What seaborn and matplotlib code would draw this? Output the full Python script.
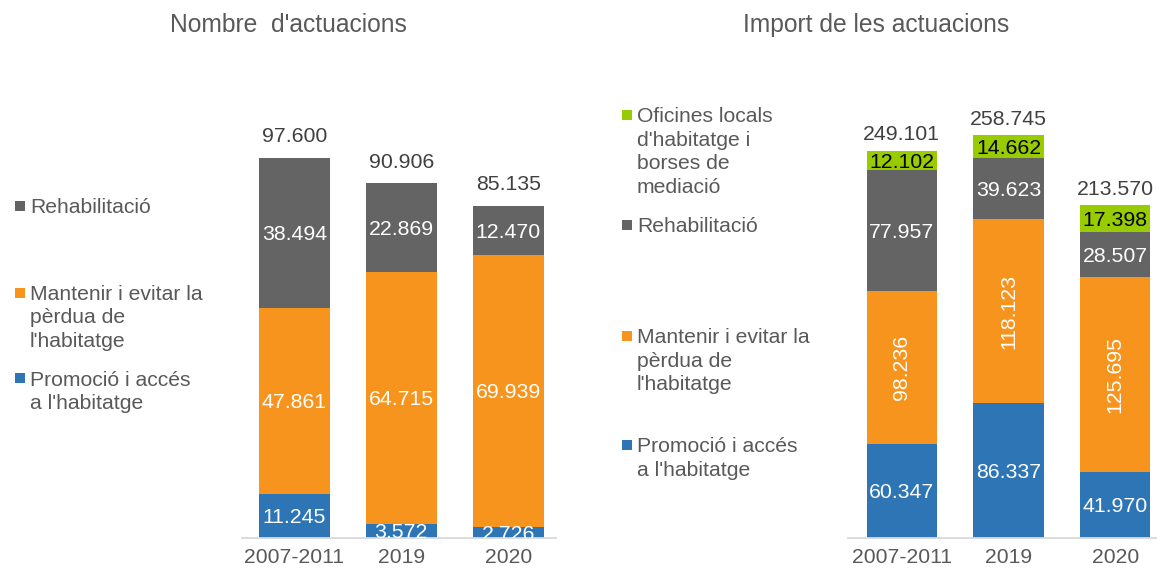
import numpy as np
import pandas as pd
import matplotlib.pyplot as plt
import matplotlib.patches as mpatches
import seaborn as sns

# --- data ---
years = ['2007-2011', '2019', '2020']

lbl_promocio = "Promoció i accés\na l'habitatge"
lbl_mantenir = "Mantenir i evitar la\npèrdua de\nl'habitatge"
lbl_rehab = "Rehabilitació"
lbl_oficines = "Oficines locals\nd'habitatge i\nborses de\nmediació"

nombre_promocio = [11245, 3572, 2726]
nombre_mantenir = [47861, 64715, 69939]
nombre_rehab = [38494, 22869, 12470]
nombre_total = [97600, 90906, 85135]

import_promocio = [60347, 86337, 41970]
import_mantenir = [98236, 118123, 125695]
import_rehab = [77957, 39623, 28507]
import_oficines = [12102, 14662, 17398]
import_total = [249101, 258745, 213570]

c_blue = '#2E75B6'
c_orange = '#F7941E'
c_gray = '#646464'
c_green = '#99CC00'
c_text = '#595959'

sns.set_style('white')
plt.rcParams['font.family'] = ['Liberation Sans', 'DejaVu Sans']

W, H = 1157, 572
fig = plt.figure(figsize=(W / 100, H / 100), dpi=100)


def fmt(v):
    return f"{v:,}".replace(',', '.')


def stacked(ax, series, totals, total_off, rot_orange=False):
    # series: list of (name, values, color, label color), bottom to top
    df = pd.DataFrame({'year': years})
    cum = np.zeros(len(years))
    cums = []
    for name, vals, col, tc in series:
        bottom = cum.copy()
        cum = cum + np.array(vals)
        cums.append((name, bottom, cum.copy(), vals, col, tc))
    # draw from the top layer down so the lower layers sit on top
    for name, bottom, top, vals, col, tc in reversed(cums):
        df['v'] = top
        sns.barplot(data=df, x='year', y='v', color=col, saturation=1,
                    width=0.66, errorbar=None, linewidth=0, ax=ax)
    for name, bottom, top, vals, col, tc in cums:
        for i, v in enumerate(vals):
            rot = 90 if (rot_orange and col == c_orange) else 0
            ax.text(i, bottom[i] + v / 2, fmt(v), ha='center',
                    va='center' if rot else 'center_baseline', rotation=rot,
                    fontsize=15.3, color=tc, clip_on=True)
    for i, t in enumerate(totals):
        ax.annotate(fmt(t), (i, t), xytext=(0, total_off), textcoords='offset points',
                    ha='center', va='baseline', fontsize=15.3, color='#404040',
                    annotation_clip=False)
    ax.set_xlabel('')
    ax.set_ylabel('')
    ax.set_yticks([])
    sns.despine(ax=ax, left=True)
    ax.spines['bottom'].set_color('#D9D9D9')
    ax.spines['bottom'].set_linewidth(1.3)
    ax.tick_params(axis='x', length=0, pad=7.5, labelsize=15.2, labelcolor=c_text)


ax1 = fig.add_axes([241.8 / W, (H - 537.5) / H, 314.6 / W, 466.7 / H])
stacked(ax1, [('p', nombre_promocio, c_blue, 'white'),
              ('m', nombre_mantenir, c_orange, 'white'),
              ('r', nombre_rehab, c_gray, 'white')], nombre_total, 11.5)
ax1.set_xlim(-0.49, 2.45)
ax1.set_ylim(0, 120000)

ax2 = fig.add_axes([848 / W, (H - 537.5) / H, 308.4 / W, 466.7 / H])
stacked(ax2, [('p', import_promocio, c_blue, 'white'),
              ('m', import_mantenir, c_orange, 'white'),
              ('r', import_rehab, c_gray, 'white'),
              ('o', import_oficines, c_green, 'black')], import_total, 7.2,
        rot_orange=True)
ax2.set_xlim(-0.504, 2.386)
ax2.set_ylim(0, 300000)

# titles
fig.text(288 / W, 1 - 22.5 / H, "Nombre  d'actuacions", ha='center',
         va='center_baseline', fontsize=17.7, color=c_text)
fig.text(876.5 / W, 1 - 22.5 / H, "Import de les actuacions", ha='center',
         va='center_baseline', fontsize=17.7, color=c_text)


# legends, placed like the Excel ones
def legend_entry(xm, xt, baseline, color, label):
    yc = baseline - 7.5
    fig.add_artist(mpatches.Rectangle((xm / W, 1 - (yc + 5) / H), 10 / W, 10 / H,
                                      transform=fig.transFigure, color=color, lw=0))
    fig.text(xt / W, 1 - (baseline - 15.2) / H, label, ha='left', va='top',
             fontsize=15.2, color=c_text, linespacing=1.3)


legend_entry(14.5, 30, 213.3, c_gray, lbl_rehab)
legend_entry(14.5, 30, 300, c_orange, lbl_mantenir)
legend_entry(14.5, 30, 385.7, c_blue, lbl_promocio)

legend_entry(622, 637, 122.3, c_green, lbl_oficines)
legend_entry(622, 637, 232.7, c_gray, lbl_rehab)
legend_entry(622, 637, 343.3, c_orange, lbl_mantenir)
legend_entry(622, 637, 452.7, c_blue, lbl_promocio)

fig.savefig('out.png', dpi=100)
